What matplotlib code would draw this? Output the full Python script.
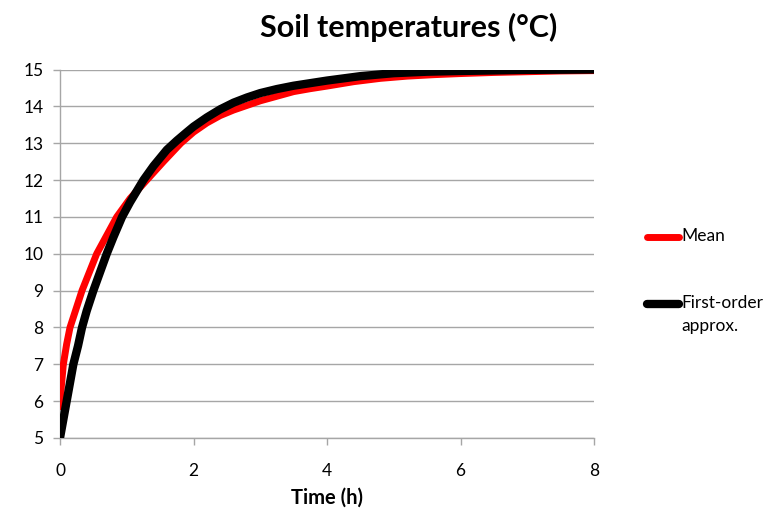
import matplotlib
matplotlib.use("Agg")
import matplotlib.pyplot as plt
from matplotlib.lines import Line2D

plt.rcParams['font.family'] = ['Lato', 'DejaVu Sans']

# Data
time_mean = [0, 0.02, 0.05, 0.1, 0.15, 0.24, 0.33, 0.44, 0.55, 0.7, 0.85, 1.05,
             1.3, 1.55, 1.81, 2.0, 2.2, 2.4, 2.6, 2.76, 3.0, 3.3, 3.5, 3.75,
             4.0, 4.4, 4.8, 5.2, 5.6, 6.0, 6.5, 7.0, 7.5, 8.0]
mean_temp = [5.85, 6.4, 7.0, 7.55, 8.0, 8.5, 9.0, 9.5, 10.0, 10.5, 11.0, 11.5,
             12.0, 12.5, 13.0, 13.3, 13.55, 13.75, 13.9, 14.0, 14.15, 14.3, 14.4, 14.48,
             14.55, 14.67, 14.76, 14.82, 14.86, 14.89, 14.92, 14.94, 14.96, 14.97]

time_approx = [0, 0.05, 0.1, 0.15, 0.2, 0.27, 0.33, 0.4, 0.5, 0.6, 0.7, 0.8,
               0.93, 1.05, 1.15, 1.25, 1.4, 1.5, 1.6, 1.75, 1.9, 2.0, 2.2, 2.4,
               2.6, 2.8, 3.0, 3.25, 3.5, 3.75, 4.0, 4.5, 5.0, 5.5, 6.0, 7.0, 8.0]
approx_temp = [5.0, 5.5, 6.0, 6.5, 7.0, 7.5, 8.0, 8.45, 9.0, 9.5, 10.0, 10.45,
               11.0, 11.4, 11.7, 12.0, 12.38, 12.6, 12.82, 13.07, 13.3, 13.45, 13.7, 13.92,
               14.1, 14.24, 14.36, 14.47, 14.56, 14.63, 14.7, 14.82, 14.9, 14.94, 14.96, 14.99, 15.0]

x_ticks = [0, 2, 4, 6, 8]
y_ticks = [5, 6, 7, 8, 9, 10, 11, 12, 13, 14, 15]
title = "Soil temperatures (°C)"
xlabel = "Time (h)"
labels = ["Mean", "First-order\napprox."]

W, H = 769, 515
fig = plt.figure(figsize=(W / 100, H / 100), dpi=100)
ax = fig.add_axes([60 / W, 1 - 438 / H, (594 - 60) / W, (438 - 69.5) / H])

grid_c = '#a6a6a6'
ax.plot(time_mean, mean_temp, color='#ff0000', lw=5.0, solid_capstyle='round',
        solid_joinstyle='round', zorder=3)
ax.plot(time_approx, approx_temp, color='#000000', lw=6.0, solid_capstyle='butt',
        solid_joinstyle='round', zorder=4)

ax.set_xlim(0, 8)
ax.set_ylim(5, 15)
ax.set_xticks(x_ticks)
ax.set_yticks(y_ticks)
ax.yaxis.grid(True, color=grid_c, lw=1.0)
ax.set_axisbelow(True)
for s in ['top', 'right']:
    ax.spines[s].set_visible(False)
for s in ['left', 'bottom']:
    ax.spines[s].set_color(grid_c)
    ax.spines[s].set_linewidth(1.0)
ax.tick_params(axis='both', colors=grid_c, length=5, width=1.0,
               labelcolor='black', labelsize=12.5)
ax.tick_params(axis='x', pad=13)
ax.tick_params(axis='y', pad=7)

ax.set_xlabel(xlabel, fontsize=14.5, fontweight='bold', labelpad=6)
fig.text(409 / W, 1 - 27 / H, title, fontsize=22, fontweight='bold',
         ha='center', va='center')

# Legend (Excel-style, handle aligned with first text line)
colors = ['#ff0000', '#000000']
ys = [237, 304]
widths = [5.0, 6.0]
for lab, c, y, w in zip(labels, colors, ys, widths):
    fig.add_artist(Line2D([647 / W, 679 / W], [1 - y / H, 1 - y / H],
                          color=c, lw=w, solid_capstyle='round',
                          transform=fig.transFigure))
    fig.text(681 / W, 1 - (y - 9) / H, lab, fontsize=12.5, ha='left', va='top',
             linespacing=1.55)

fig.savefig('out.png', dpi=100)
